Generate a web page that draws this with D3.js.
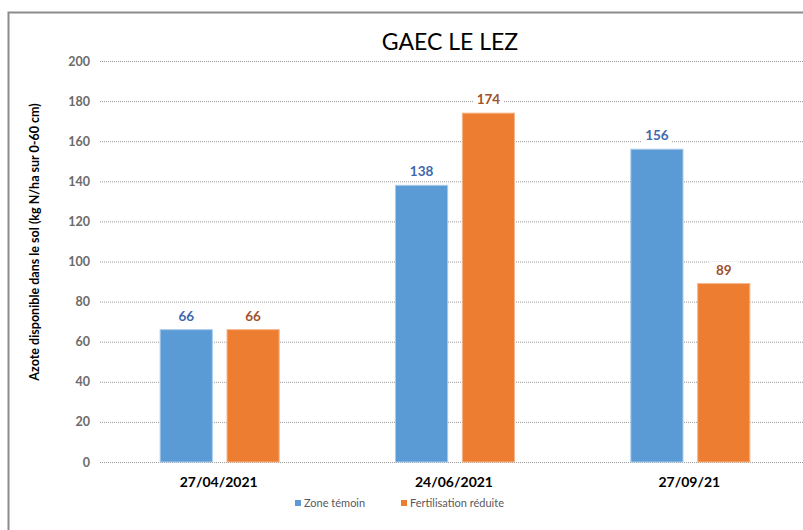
<!DOCTYPE html>
<html lang="fr">
<head>
<meta charset="UTF-8">
<title>GAEC LE LEZ</title>
<script src="https://cdn.jsdelivr.net/npm/d3@7"></script>
<style>
  body { margin: 0; background: #fff; }
  text { font-family: Lato, "Open Sans", sans-serif; }
</style>
</head>
<body>
<script>
// données
var dates = ["27/04/2021", "24/06/2021", "27/09/21"];
var series = ["Zone témoin", "Fertilisation réduite"];
var zoneTemoin = [66, 138, 156];
var fertiReduite = [66, 174, 89];
var yTicks = [0, 20, 40, 60, 80, 100, 120, 140, 160, 180, 200];

var colors = ["#5B9BD5", "#ED7D31"];
var labelColors = ["#3F67AE", "#A0522D"];

var width = 803, height = 530;
var svg = d3.select("body").append("svg")
    .attr("width", width)
    .attr("height", height);

// cadre (coupé à droite et en bas)
svg.append("path")
    .attr("d", "M8.5,530 L8.5,12.5 L803,12.5")
    .attr("fill", "none")
    .attr("stroke", "#8c8c8c")
    .attr("stroke-width", 2);

var x0 = d3.scaleBand().domain(dates).range([102, 808]);
var x1 = d3.scaleBand().domain(series).range([0, 119]).paddingInner(0.22);
var y = d3.scaleLinear().domain([0, 200]).range([462, 61]);

// titre
svg.append("text")
    .attr("x", 450).attr("y", 50)
    .attr("text-anchor", "middle")
    .attr("font-size", 23)
    .attr("fill", "#000")
    .text("GAEC LE LEZ");

// grille
var grid = svg.append("g");
grid.selectAll("line").data(yTicks).enter().append("line")
    .attr("x1", 100).attr("x2", 803)
    .attr("y1", function (d) { return y(d) + 0.5; })
    .attr("y2", function (d) { return y(d) + 0.5; })
    .attr("stroke", "#9a9a9a")
    .attr("stroke-width", 1)
    .attr("stroke-dasharray", "1,1");

// axe y
var yAxis = d3.axisLeft(y).tickValues(yTicks).tickSize(0).tickPadding(0);
var gy = svg.append("g").attr("transform", "translate(90,0)").call(yAxis);
gy.select(".domain").remove();
gy.selectAll("text")
    .attr("font-size", 12.5)
    .attr("font-weight", "bold")
    .attr("fill", "#6b6b6b")
    .attr("font-family", "Lato, sans-serif");

svg.append("text")
    .attr("transform", "translate(39,242) rotate(-90)")
    .attr("text-anchor", "middle")
    .attr("font-size", 12.5)
    .attr("font-weight", "bold")
    .attr("fill", "#000")
    .text("Azote disponible  dans le sol (kg N/ha sur 0-60 cm)");

// barres
var rows = dates.map(function (d, i) {
    return { date: d, values: [zoneTemoin[i], fertiReduite[i]] };
});

var groups = svg.selectAll(".grp").data(rows).enter().append("g")
    .attr("class", "grp")
    .attr("transform", function (d) {
        return "translate(" + (x0(d.date) + (x0.bandwidth() - 119) / 2) + ",0)";
    });

groups.selectAll("rect").data(function (d) {
    return d.values.map(function (v, j) { return { s: series[j], v: v, j: j }; });
}).enter().append("rect")
    .attr("x", function (d) { return x1(d.s); })
    .attr("y", function (d) { return y(d.v); })
    .attr("width", x1.bandwidth())
    .attr("height", function (d) { return y(0) - y(d.v); })
    .attr("fill", function (d) { return colors[d.j]; })
    .attr("stroke", function (d) { return d.j === 0 ? "#a9c9ea" : "#f5b48a"; })
    .attr("stroke-width", 1);

// étiquettes
var lab = groups.selectAll(".lab").data(function (d) {
    return d.values.map(function (v, j) { return { s: series[j], v: v, j: j }; });
}).enter().append("g").attr("class", "lab");

lab.append("rect")
    .attr("x", function (d) { return x1(d.s) + x1.bandwidth() / 2 - 15; })
    .attr("y", function (d) { return y(d.v) - 22; })
    .attr("width", 30).attr("height", 16)
    .attr("fill", "#fff");

lab.append("text")
    .attr("x", function (d) { return x1(d.s) + x1.bandwidth() / 2; })
    .attr("y", function (d) { return y(d.v) - 9; })
    .attr("text-anchor", "middle")
    .attr("font-size", 13.5)
    .attr("font-weight", "bold")
    .attr("fill", function (d) { return labelColors[d.j]; })
    .text(function (d) { return d.v; });

// axe x
svg.selectAll(".cat").data(dates).enter().append("text")
    .attr("class", "cat")
    .attr("x", function (d) { return x0(d) + x0.bandwidth() / 2 - 1; })
    .attr("y", 487)
    .attr("text-anchor", "middle")
    .attr("font-size", 14)
    .attr("font-weight", "bold")
    .attr("fill", "#000")
    .text(function (d) { return d; });

// légende
var legX = [295, 401];
var leg = svg.selectAll(".leg").data(series).enter().append("g")
    .attr("transform", function (d, i) { return "translate(" + legX[i] + ",500)"; });
leg.append("rect")
    .attr("width", 6).attr("height", 6)
    .attr("fill", function (d, i) { return colors[i]; });
leg.append("text")
    .attr("x", 9).attr("y", 7)
    .attr("font-size", 11)
    .attr("fill", "#595959")
    .text(function (d) { return d; });
</script>
</body>
</html>
